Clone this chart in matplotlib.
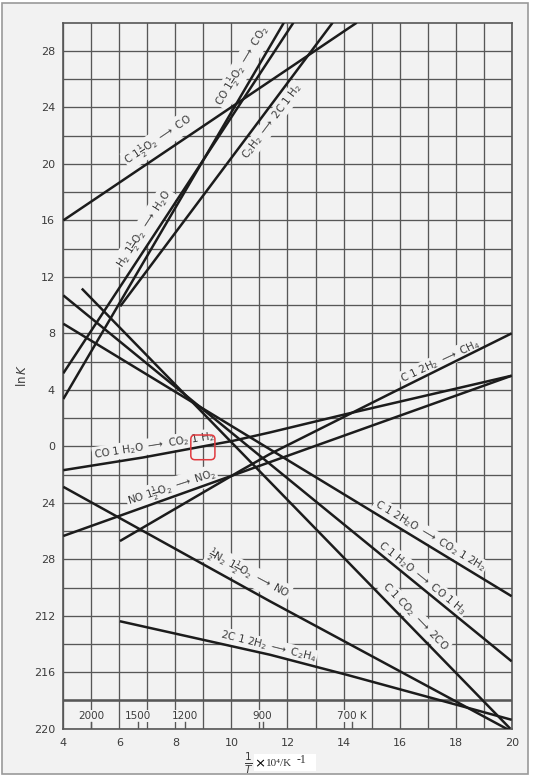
import numpy as np
import matplotlib
matplotlib.use("Agg")
import matplotlib.pyplot as plt
from matplotlib.patches import Rectangle, FancyBboxPatch

# ---------------- data ----------------
# x = 1/T x 10^4 K^-1, y = ln K
x_c_co = [4.0, 14.47]
y_c_co = [16.0, 30.0]

x_co_co2 = [4.0, 11.87]
y_co_co2 = [3.35, 30.0]

x_h2_h2o = [4.0, 12.21]
y_h2_h2o = [5.17, 30.0]

x_c2h2 = [6.03, 13.61]
y_c2h2 = [9.91, 30.0]

x_c_2h2o = [4.0, 20.0]
y_c_2h2o = [8.68, -10.62]

x_c_h2o = [4.0, 20.0]
y_c_h2o = [10.69, -15.23]

x_c_co2 = [4.66, 19.95]
y_c_co2 = [11.17, -20.0]

x_co_h2o = [4.0, 6.85, 10.06, 11.37, 14.11, 20.0]
y_co_h2o = [-1.69, -0.79, 0.39, 0.98, 2.29, 5.0]

x_no_no2 = [4.0, 20.0]
y_no_no2 = [-6.35, 5.0]

x_ch4 = [6.02, 10.31, 11.37, 16.01, 20.0]
y_ch4 = [-6.71, -1.74, -0.55, 4.07, 8.0]

x_n2_no = [4.0, 11.37, 20.0]
y_n2_no = [-2.87, -10.97, -20.2]

x_c2h4 = [6.02, 11.37, 14.11, 20.0]
y_c2h4 = [-12.39, -14.76, -16.18, -19.37]

x_ticks = [4, 6, 8, 10, 12, 14, 16, 18, 20]
y_ticks = [28, 24, 20, 16, 12, 8, 4, 0, -4, -8, -12, -16, -20]
y_tick_labels = ["28", "24", "20", "16", "12", "8", "4", "0", "24", "28", "212", "216", "220"]

temps = [2000, 1500, 1200, 900, 700]
temp_labels = ["2000", "1500", "1200", "900", "700 K"]

# ---------------- styling ----------------
BG = "#f2f2f2"
GRID = "#575757"
LINE = "#1c1c1c"
TXT = "#3c3c3c"

W, H = 540, 777
fig = plt.figure(figsize=(W / 100, H / 100), dpi=100, facecolor="white")

# page background with border
fig.patches.append(Rectangle((2 / W, 1 - 774 / H), 526 / W, 771 / H, transform=fig.transFigure,
                             facecolor=BG, edgecolor="#9a9a9a", lw=1.2, zorder=-5))

ax = fig.add_axes([63.3 / W, 1 - 728.7 / H, (511.7 - 63.3) / W, (728.7 - 22.7) / H])
ax.set_zorder(2)
ax.set_facecolor(BG)
ax.set_xlim(4, 20)
ax.set_ylim(-20, 30)

ax.set_xticks(x_ticks)
ax.set_xticks(np.arange(5, 20, 2), minor=True)
ax.set_yticks(y_ticks)
ax.set_yticklabels(y_tick_labels)
ax.set_yticks(np.arange(-18, 30, 4), minor=True)
ax.tick_params(which="both", length=0, labelsize=8, colors=TXT)
ax.tick_params(axis="y", pad=6)
ax.tick_params(axis="x", pad=7)
ax.grid(which="both", color=GRID, lw=0.95, zorder=1)
ax.set_axisbelow(True)
for s in ax.spines.values():
    s.set_color(GRID)
    s.set_linewidth(1.2)

# temperature band
ax.axhline(-18, color=GRID, lw=1.8, zorder=1.5)
for T, lab in zip(temps, temp_labels):
    xv = 1e4 / T
    ax.text(xv, -19.1, lab, ha="center", va="center", fontsize=7.5, color=TXT,
            bbox=dict(facecolor=BG, edgecolor="none", pad=1.0), zorder=2)
    ax.plot([xv, xv], [-20, -19.55], color=GRID, lw=1.0, zorder=2)

series = [
    (x_c_co, y_c_co), (x_co_co2, y_co_co2), (x_h2_h2o, y_h2_h2o), (x_c2h2, y_c2h2),
    (x_c_2h2o, y_c_2h2o), (x_c_h2o, y_c_h2o), (x_c_co2, y_c_co2), (x_co_h2o, y_co_h2o),
    (x_no_no2, y_no_no2), (x_ch4, y_ch4), (x_n2_no, y_n2_no), (x_c2h4, y_c2h4),
]
for xs, ys in series:
    ax.plot(xs, ys, color=LINE, lw=1.8, zorder=3, solid_capstyle="butt")

# reaction labels: (x, y, rotation_deg_display, text)
A = r"$\longrightarrow$"
labels = [
    (7.41, 21.7, 34, r"C 1$\frac{1}{2}$O$_2$ " + A + " CO"),
    (10.4, 26.95, 59, r"CO 1$\frac{1}{2}$O$_2$ " + A + r" CO$_2$"),
    (6.9, 15.4, 57, r"H$_2$ 1$\frac{1}{2}$O$_2$ " + A + r" H$_2$O"),
    (11.45, 23.0, 53, r"C$_2$H$_2$ " + A + r" 2C 1 H$_2$"),
    (7.24, 0.05, 9, r"CO 1 H$_2$O " + A + r" CO$_2$ 1 H$_2$"),
    (7.88, -2.95, 18, r"NO 1$\frac{1}{2}$O$_2$ " + A + r" NO$_2$"),
    (17.45, 6.0, 25, r"C 1 2H$_2$ " + A + r" CH$_4$"),
    (17.08, -6.35, -31, r"C 1 2H$_2$O " + A + r" CO$_2$ 1 2H$_2$"),
    (16.8, -9.34, -39, r"C 1 H$_2$O " + A + r" CO 1 H$_3$"),
    (16.55, -12.04, -46, r"C 1 CO$_2$ " + A + r" 2CO"),
    (10.6, -9.05, -28, r"$\frac{1}{2}$N$_2$ 1$\frac{1}{2}$O$_2$ " + A + r" NO"),
    (11.3, -14.17, -14, r"2C 1 2H$_2$ " + A + r" C$_2$H$_4$"),
]
for x, y, rot, t in labels:
    ax.text(x, y, t, rotation=rot, rotation_mode="anchor", ha="center", va="center",
            fontsize=7.5, color=TXT, zorder=2.5,
            bbox=dict(facecolor=BG, edgecolor="none", pad=0.8))

# red highlight box
ax.add_patch(FancyBboxPatch((8.55, -0.95), 0.86, 1.75, boxstyle="round,pad=0,rounding_size=0.15",
                            mutation_aspect=2.0, facecolor="none", edgecolor="#e0393e", lw=1.1, zorder=4))

# axis labels
fig.text(22 / W, 1 - 375 / H, r"ln$\,K$", rotation=90, ha="center", va="center", fontsize=8.5, color=TXT)
fig.text(249 / W, 1 - 763 / H, r"$\frac{1}{T}$", ha="center", va="center", fontsize=11, color=TXT)
fig.patches.append(Rectangle((254 / W, 1 - 771 / H), 62 / W, 17 / H, transform=fig.transFigure,
                             facecolor="white", edgecolor="none", zorder=3))
fig.text(254.5 / W, 1 - 763.5 / H, "\u00d7", ha="left", va="center", fontsize=9.5, color="black",
         family="DejaVu Sans", zorder=4)
fig.text(266 / W, 1 - 763 / H, "10\u2074/K", ha="left", va="center", fontsize=8, color="#333333",
         family="Liberation Serif", zorder=4)
fig.text(297 / W, 1 - 760 / H, "-1", ha="left", va="center", fontsize=8.5, color="#333333",
         family="Liberation Serif", zorder=4)

fig.savefig("out.png", dpi=100, facecolor="white")
